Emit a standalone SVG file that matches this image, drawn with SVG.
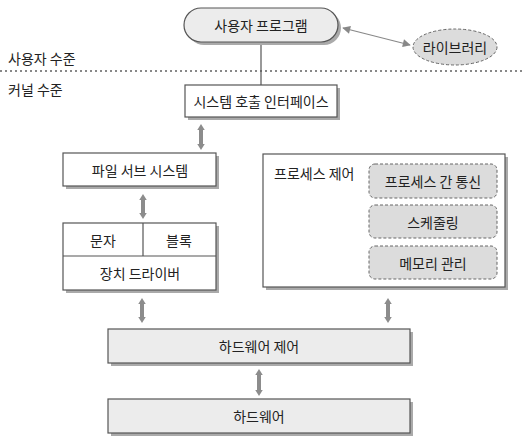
<svg xmlns="http://www.w3.org/2000/svg" width="524" height="443" viewBox="0 0 524 443">
<defs>
<style>
text{font-family:"Noto Sans CJK KR","Noto Sans",sans-serif;font-size:14px;fill:#222;text-anchor:middle;dominant-baseline:central}
.box{fill:#fff;stroke:#555;stroke-width:1.2}
.gbox{fill:#ececec;stroke:#555;stroke-width:1.2}
.sh{fill:#aaa}
.dash{fill:#dcdcdc;stroke:#666;stroke-width:1;stroke-dasharray:3 2}
.big{stroke:#8c8c8c;stroke-width:4;fill:none;marker-start:url(#bh);marker-end:url(#bh)}
</style>
<marker id="bh" viewBox="0 0 10 10" refX="3" refY="5" markerWidth="8" markerHeight="10" markerUnits="userSpaceOnUse" orient="auto-start-reverse">
<path d="M0,0 L8,5 L0,10 Z" fill="#8c8c8c"/>
</marker>
<marker id="sh" viewBox="0 0 10 10" refX="9" refY="5" markerWidth="10" markerHeight="8" markerUnits="userSpaceOnUse" orient="auto-start-reverse">
<path d="M0,0 L10,5 L0,10 Z" fill="#888"/>
</marker>
</defs>
<rect width="524" height="443" fill="#fff"/>

<g id="levels">
<line x1="0" y1="71" x2="524" y2="71" stroke="#888" stroke-width="2" stroke-dasharray="2 3"/>
<text x="8" y="58" style="text-anchor:start">사용자 수준</text>
<text x="8" y="89" style="text-anchor:start">커널 수준</text>
</g>

<g id="connectors">
<line x1="261" y1="43" x2="261" y2="85" stroke="#555" stroke-width="1.2"/>
<line x1="343" y1="28" x2="410" y2="45" stroke="#888" stroke-width="1.2" marker-start="url(#sh)" marker-end="url(#sh)"/>
<line class="big" x1="201" y1="128" x2="201" y2="146"/>
<line class="big" x1="143" y1="198" x2="143" y2="215"/>
<line class="big" x1="142" y1="302" x2="142" y2="319"/>
<line class="big" x1="388" y1="302" x2="388" y2="319"/>
<line class="big" x1="259" y1="373" x2="259" y2="392"/>
</g>

<g id="user-program">
<rect x="187" y="11" width="154" height="34" rx="17" class="sh"/>
<rect x="184" y="8" width="154" height="34" rx="17" class="gbox"/>
<text x="261" y="25">사용자 프로그램</text>
</g>

<g id="library">
<ellipse cx="455" cy="47" rx="42" ry="18" class="dash"/>
<text x="455" y="47">라이브러리</text>
</g>

<g id="syscall">
<rect x="188" y="88" width="152" height="32" class="sh"/>
<rect x="185" y="85" width="152" height="32" class="box"/>
<text x="261" y="101">시스템 호출 인터페이스</text>
</g>

<g id="filesystem">
<rect x="66" y="156" width="153" height="33" class="sh"/>
<rect x="63" y="153" width="153" height="33" class="box"/>
<text x="140" y="170">파일 서브 시스템</text>
</g>

<g id="device-driver">
<rect x="66" y="226" width="153" height="67" class="sh"/>
<rect x="63" y="223" width="153" height="67" class="box"/>
<line x1="63" y1="256" x2="216" y2="256" stroke="#555" stroke-width="1.2"/>
<line x1="143" y1="223" x2="143" y2="256" stroke="#555" stroke-width="1.2"/>
<text x="103" y="240">문자</text>
<text x="179" y="240">블록</text>
<text x="140" y="273">장치 드라이버</text>
</g>

<g id="process-control">
<rect x="266" y="157" width="242" height="133" class="sh"/>
<rect x="263" y="154" width="242" height="133" class="box"/>
<text x="274" y="173" style="text-anchor:start">프로세스 제어</text>
</g>

<g id="ipc">
<rect x="369" y="164" width="128" height="34" rx="6" class="dash"/>
<text x="433" y="181">프로세스 간 통신</text>
</g>

<g id="scheduling">
<rect x="369" y="205" width="128" height="33" rx="6" class="dash"/>
<text x="433" y="221.5">스케줄링</text>
</g>

<g id="memory">
<rect x="369" y="246" width="128" height="33" rx="6" class="dash"/>
<text x="433" y="262.5">메모리 관리</text>
</g>

<g id="hw-control">
<rect x="111" y="332" width="302" height="34" class="sh"/>
<rect x="108" y="329" width="302" height="34" class="gbox"/>
<text x="259" y="346">하드웨어 제어</text>
</g>

<g id="hardware">
<rect x="111" y="402" width="302" height="34" class="sh"/>
<rect x="108" y="399" width="302" height="34" class="gbox"/>
<text x="259" y="416">하드웨어</text>
</g>
</svg>
